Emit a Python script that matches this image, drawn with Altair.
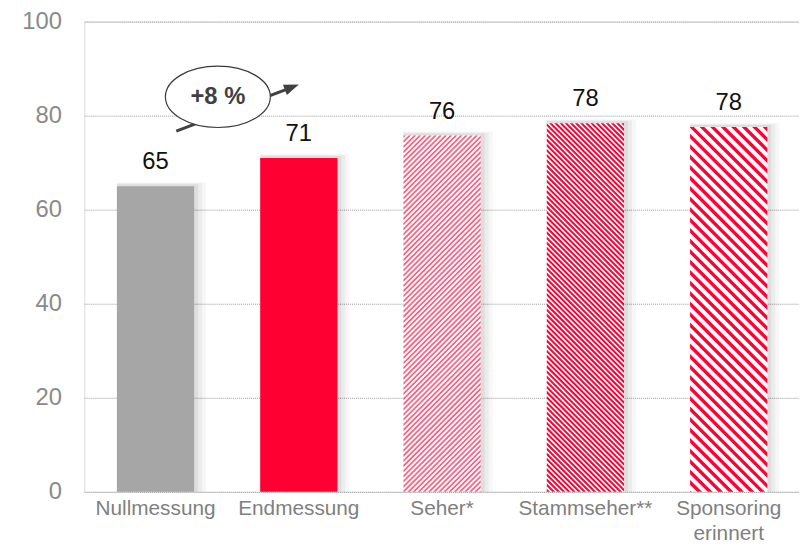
import altair as alt
import pandas as pd

# ---------------- data ----------------
categories = ["Nullmessung", "Endmessung", "Seher*", "Stammseher**", "Sponsoring erinnert"]
values = [65, 71, 75.8, 78.4, 77.6]
value_labels = ["65", "71", "76", "78", "78"]

ann_from = ["Nullmessung"]
ann_to = ["Endmessung"]
ann_y_start = [76.7]
ann_y_end = [86.6]
ann_text_y = [84.0]
ann_text = ["+8 %"]

# ---------------- layout / style ----------------
FONT = "Liberation Sans"
PLOT_W, PLOT_H = 722, 475
PI, PO, ALIGN = 0.461, 0.2245, 0.5077
GRAY, RED, DARK = "#A6A6A6", "#FF0033", "#404040"

step = PLOT_W / (len(categories) - PI + 2 * PO)
BAR_W = step * (1 - PI)


def _clip(poly, f, c, keep_ge):
    out = []
    n = len(poly)
    for i in range(n):
        p, q = poly[i], poly[(i + 1) % n]
        fp, fq = f(p) - c, f(q) - c
        if not keep_ge:
            fp, fq = -fp, -fq
        pin, qin = fp >= 0, fq >= 0
        if pin:
            out.append(p)
        if pin != qin:
            t = fp / (fp - fq)
            out.append((p[0] + t * (q[0] - p[0]), p[1] + t * (q[1] - p[1])))
    return out


def hatch_path(value, period, duty, direction):
    """Stripe texture for a bar, as a symbol path in pixel units (symbol size 4)."""
    W = BAR_W
    H = value * PLOT_H / 100.0
    rect = [(0, 0), (W, 0), (W, H), (0, H)]
    if direction == "/":
        f = lambda p: p[0] + p[1]
    else:
        f = lambda p: (W - p[0]) + p[1]
    parts = []
    k = 0
    while k * period < W + H:
        a = k * period
        b = a + duty * period
        poly = _clip(_clip(rect, f, a, True), f, b, False)
        if len(poly) >= 3:
            pts = [f"{x - W / 2:.2f} {y - H / 2:.2f}" for x, y in poly]
            parts.append("M " + " L ".join(pts) + " Z")
        k += 1
    return " ".join(parts)


df = pd.DataFrame({"cat": categories, "value": values, "label": value_labels})
ann = pd.DataFrame({
    "cat": ann_from, "cat2": ann_to, "y": ann_y_start, "y2": ann_y_end,
    "ty": ann_text_y, "text": ann_text,
})

xscale = alt.Scale(domain=categories, paddingInner=PI, paddingOuter=PO, align=ALIGN)
yscale = alt.Scale(domain=[0, 100], nice=False)
X = alt.X(
    "cat:N", scale=xscale, sort=categories, title=None,
    axis=alt.Axis(
        labelAngle=0, ticks=False, domain=False, labelPadding=6, labelBaseline="top",
        labelFontSize=21, labelColor="#7F7F7F", labelFont=FONT, labelLineHeight=25,
        labelExpr="datum.label == 'Sponsoring erinnert' ? ['Sponsoring', 'erinnert'] : datum.label",
    ),
)
Y = alt.Y(
    "value:Q", scale=yscale, title=None,
    axis=alt.Axis(
        values=[0, 20, 40, 60, 80, 100], ticks=False, domain=False, labelPadding=23,
        labelFontSize=24, labelColor="#8A8A8A", labelFont=FONT,
        grid=True, gridColor="#9A9A9A", gridDash=[1, 1], gridWidth=1,
    ),
)

base = alt.Chart(df)

shadows = [
    base.mark_bar(
        color="#000000", opacity=op, stroke="#000000", strokeWidth=sw,
        xOffset=xo, yOffset=yo, clip=True,
    ).encode(x=X, y=Y)
    for sw, xo, yo, op in [(12, 6, 2, 0.03), (8, 4, 1, 0.045), (4, 2, 0, 0.06)]
]

bar_fill = base.mark_bar().encode(
    x=X, y=Y,
    color=alt.Color(
        "cat:N",
        scale=alt.Scale(domain=categories, range=[GRAY, RED, "#FFFFFF", "#FFFFFF", "#FFFFFF"]),
        legend=None,
    ),
)

hatch_specs = [
    (2, "#FF5A7D", 5.2, 0.45, "/"),
    (3, RED, 5.2, 0.55, "\\"),
    (4, RED, 10.6, 0.45, "\\"),
]
hatches = [
    base.transform_filter(alt.datum.cat == categories[i])
    .transform_calculate(half="datum.value / 2")
    .mark_point(
        shape=hatch_path(values[i], p, d, di), size=4, filled=True,
        color=col, opacity=1, strokeWidth=0,
    ).encode(x=X, y=alt.Y("half:Q", scale=yscale))
    for i, col, p, d, di in hatch_specs
]

texts = base.mark_text(
    fontSize=24, font=FONT, color="#111111", dy=-17, baseline="alphabetic"
).encode(x=X, y=Y, text="label:N")

arrow = alt.Chart(ann).mark_rule(
    color=DARK, strokeWidth=3, xOffset=21, x2Offset=-7, y2Offset=2.7
).encode(x=alt.X("cat:N", scale=xscale), x2="cat2:N", y=alt.Y("y:Q", scale=yscale), y2="y2:Q")

head = alt.Chart(ann).mark_point(
    shape="M 0 0 L -2 -0.75 L -2 0.75 Z", size=225, angle=339.2,
    filled=True, color=DARK, opacity=1,
).encode(x=alt.X("cat2:N", scale=xscale), y=alt.Y("y2:Q", scale=yscale))

ry = 0.585
k = 0.5523
ell = (
    f"M 1 0 C 1 {k*ry:.4f} {k} {ry} 0 {ry} "
    f"C {-k} {ry} -1 {k*ry:.4f} -1 0 "
    f"C -1 {-k*ry:.4f} {-k} {-ry} 0 {-ry} "
    f"C {k} {-ry} 1 {-k*ry:.4f} 1 0 Z"
)
ellipse = alt.Chart(ann).mark_point(
    shape=ell, size=106 * 106, filled=True, fill="#FFFFFF", stroke="#3A3A3A",
    strokeWidth=1.2, opacity=1, xOffset=63,
).encode(x=alt.X("cat:N", scale=xscale), y=alt.Y("ty:Q", scale=yscale))

ann_text_mark = alt.Chart(ann).mark_text(
    fontSize=24, font=FONT, fontWeight="bold", color=DARK, xOffset=63, baseline="middle",
).encode(x=alt.X("cat:N", scale=xscale), y=alt.Y("ty:Q", scale=yscale), text="text:N")

chart = alt.layer(
    *shadows, bar_fill, *hatches, texts, arrow, head, ellipse, ann_text_mark
).properties(
    width=PLOT_W, height=PLOT_H,
    autosize=alt.AutoSizeParams(type="none"),
    padding={"left": 77, "top": 11, "right": 0, "bottom": 53},
).configure_view(stroke=None).configure(font=FONT)

chart.save("out.html", embed_options={"renderer": "svg", "actions": False})
